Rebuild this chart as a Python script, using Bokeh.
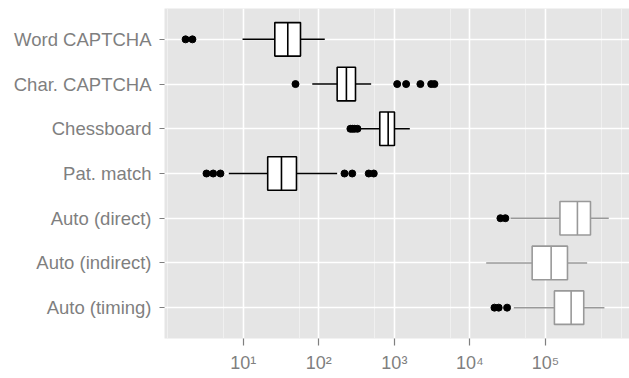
from bokeh.plotting import figure
from bokeh.models import FactorRange, Range1d, FixedTicker, ColumnDataSource
from bokeh.embed import file_html
from bokeh.resources import INLINE

# ---- data ----
categories = ["Word CAPTCHA", "Char. CAPTCHA", "Chessboard", "Pat. match",
              "Auto (direct)", "Auto (indirect)", "Auto (timing)"]
lower  = [9.8,   82,   334,  6.45, 34400,  16400,  38000]
q1     = [26.2,  175,  641,  21.1, 155000, 66500,  131000]
median = [38.9,  232,  828,  32.1, 264000, 118600, 218000]
q3     = [57.3,  306,  1003, 50.7, 393000, 195000, 320000]
upper  = [120,   493,  1600, 175,  686000, 355000, 601000]
outliers = {
    "Word CAPTCHA": [1.73, 2.13],
    "Char. CAPTCHA": [49.2, 1090, 1430, 2210, 3070, 3390],
    "Chessboard": [262, 279, 297, 325],
    "Pat. match": [3.27, 4.01, 5.0, 219, 277, 458, 534],
    "Auto (direct)": [25300, 29400],
    "Auto (indirect)": [],
    "Auto (timing)": [21100, 24000, 31000],
}
group_color = ["#000000", "#000000", "#000000", "#000000",
               "#999999", "#999999", "#999999"]
major_ticks = [10, 100, 1000, 10000, 100000]
tick_labels = ["10\u00b9", "10\u00b2", "10\u00b3", "10\u2074", "10\u2075"]
minor_ticks = [1, 5.5, 55, 550, 5500, 55000, 550000, 1000000]

FONT = "Liberation Sans"
HALF = 0.375

p = figure(
    output_backend="svg", toolbar_location=None,
    frame_width=465, frame_height=330,
    x_axis_type="log",
    x_range=Range1d(0.91, 1.29e6),
    y_range=FactorRange(factors=list(reversed(categories)),
                        range_padding=0.19, range_padding_units="absolute"),
    min_border_left=164, min_border_right=0, min_border_top=8, min_border_bottom=40,
)
p.background_fill_color = "#E5E5E5"
p.border_fill_color = "white"
p.outline_line_color = None

# grid
p.xaxis.ticker = FixedTicker(ticks=major_ticks, minor_ticks=minor_ticks)
p.xgrid.grid_line_color = "white"
p.xgrid.grid_line_width = 1.6
p.xgrid.minor_grid_line_color = "#F2F2F2"
p.xgrid.minor_grid_line_width = 0.8
p.ygrid.grid_line_color = "white"
p.ygrid.grid_line_width = 1.6

# axes
for ax in (p.xaxis, p.yaxis):
    ax.axis_line_color = None
    ax.major_tick_line_color = "#7F7F7F"
    ax.major_tick_line_width = 1.2
    ax.major_tick_in = 0
    ax.minor_tick_in = 0
    ax.minor_tick_out = 0
    ax.major_label_text_color = "#7F7F7F"
    ax.major_label_text_font = FONT
p.yaxis.major_label_text_font_size = "18.5px"
p.xaxis.major_label_text_font_size = "18px"
p.xaxis.major_tick_out = 7
p.xaxis.major_label_standoff = 7
p.yaxis.major_tick_out = 5
p.yaxis.major_label_standoff = 8
p.xaxis.major_label_overrides = {float(t): lab for t, lab in zip(major_ticks, tick_labels)}

# whiskers
src = ColumnDataSource(dict(
    cat=categories, lower=lower, q1=q1, median=median, q3=q3, upper=upper,
    color=group_color,
    top=[(c, HALF) for c in categories],
    bot=[(c, -HALF) for c in categories],
))
p.segment(x0="lower", x1="q1", y0="cat", y1="cat", source=src,
          line_color="color", line_width=1.5)
p.segment(x0="q3", x1="upper", y0="cat", y1="cat", source=src,
          line_color="color", line_width=1.5)
# boxes
p.hbar(y="cat", left="q1", right="q3", height=2 * HALF, source=src,
       fill_color="white", line_color="color", line_width=1.6)
# medians
p.segment(x0="median", x1="median", y0="bot", y1="top", source=src,
          line_color="color", line_width=1.6)

# outliers
ox, oy = [], []
for c in categories:
    for v in outliers[c]:
        ox.append(v)
        oy.append(c)
p.scatter(x=ox, y=oy, size=7, fill_color="black", line_color="black")

open("out.html", "w").write(file_html(p, INLINE))
